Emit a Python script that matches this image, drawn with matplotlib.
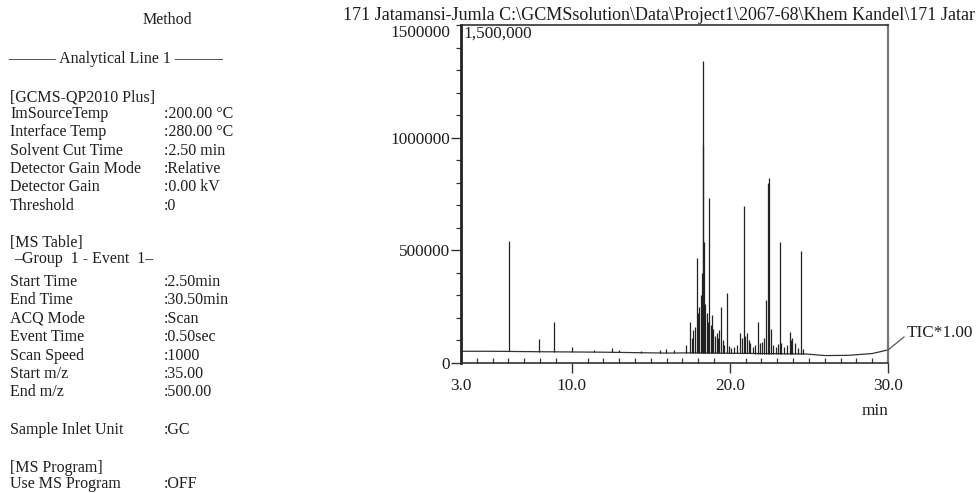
import matplotlib
matplotlib.use("Agg")
import matplotlib.pyplot as plt
import matplotlib.transforms as mtransforms
import numpy as np

# ---------------- data ----------------
title_text = "171 Jatamansi-Jumla C:\\GCMSsolution\\Data\\Project1\\2067-68\\Khem Kandel\\171 Jatar"

method_labels = ["ImSourceTemp", "Interface Temp", "Solvent Cut Time",
                 "Detector Gain Mode", "Detector Gain", "Threshold"]
method_values = [":200.00 \u00b0C", ":280.00 \u00b0C", ":2.50 min",
                 ":Relative", ":0.00 kV", ":0"]
ms_labels = ["Start Time", "End Time", "ACQ Mode", "Event Time",
             "Scan Speed", "Start m/z", "End m/z"]
ms_values = [":2.50min", ":30.50min", ":Scan", ":0.50sec",
             ":1000", ":35.00", ":500.00"]

# baseline of the TIC trace (retention time in min, intensity)
base_t = [3.0, 5.0, 8.0, 12.0, 16.0, 17.3, 24.8, 26.0, 27.5, 29.0, 30.0]
base_v = [52000, 52000, 50000, 48000, 44000, 45000, 40000, 33000, 34000, 42000, 58000]

# peaks (retention time in min, apex intensity)
peak_t = [6.02, 7.94, 8.90, 10.05, 11.4, 12.55, 13.0, 14.4, 15.6, 15.95, 16.5, 17.2,
          17.45, 17.6, 17.7, 17.8, 17.92, 18.0, 18.08, 18.15, 18.25, 18.30, 18.33,
          18.38, 18.45, 18.55, 18.63, 18.71, 18.8, 18.87, 18.95, 19.05, 19.18, 19.25,
          19.33, 19.44, 19.55, 19.65, 19.82, 19.95, 20.1, 20.24, 20.45, 20.66, 20.75,
          20.87, 20.95, 21.08, 21.2, 21.29, 21.45, 21.6, 21.75, 21.9, 22.03, 22.15,
          22.3, 22.39, 22.47, 22.6, 22.75, 22.9, 23.05, 23.15, 23.24, 23.4, 23.6,
          23.78, 23.85, 23.93, 24.1, 24.3, 24.52, 24.65]
peak_h = [540000, 107000, 183000, 72000, 56000, 68000, 58000, 54000, 58000, 62000, 57000, 80000,
          183000, 110000, 147000, 160000, 465000, 220000, 250000, 300000, 398000, 1340000, 969000,
          539000, 260000, 222000, 180000, 733000, 170000, 213000, 150000, 120000, 133000, 110000,
          147000, 250000, 100000, 80000, 310000, 75000, 68000, 72000, 80000, 133000, 110000,
          695000, 120000, 133000, 100000, 89000, 70000, 80000, 183000, 90000, 95000, 110000,
          280000, 800000, 822000, 150000, 80000, 70000, 85000, 539000, 89000, 70000, 80000,
          139000, 100000, 111000, 89000, 65000, 495000, 60000]

y_ticks = [0, 500000, 1000000]
y_ticklabels = ["0", "500000", "1000000"]
x_ticks = [3.0, 10.0, 20.0, 30.0]
x_ticklabels = ["3.0", "10.0", "20.0", "30.0"]

# ---------------- figure ----------------
W, H = 979, 493
fig = plt.figure(figsize=(W / 100, H / 100), dpi=100)
plt.rcParams['font.family'] = ['Liberation Serif', 'DejaVu Serif']
TXT = '#1e1e1e'
FS = 11.5     # left method panel
FC = 12.4     # chart texts
FT = 12.95    # title

def px(x, y):
    return x / W, 1 - y / H

# left method panel
fig.text(*px(167, 20), "Method", ha='center', va='center', fontsize=FS, color=TXT)
fig.text(*px(116, 59), "\u2014\u2014\u2014 Analytical Line 1 \u2014\u2014\u2014", ha='center', va='center',
         fontsize=FS, color=TXT)
fig.text(*px(10, 97), "[GCMS-QP2010 Plus]", ha='left', va='center', fontsize=FS, color=TXT)
y0 = 114
for i, (lab, val) in enumerate(zip(method_labels, method_values)):
    yy = y0 + i * 18.3
    fig.text(*px(10, yy), lab, ha='left', va='center', fontsize=FS, color=TXT)
    fig.text(*px(164, yy), val, ha='left', va='center', fontsize=FS, color=TXT)
fig.text(*px(10, 243), "[MS Table]", ha='left', va='center', fontsize=FS, color=TXT)
fig.text(*px(14, 259), "\u2013Group  1 - Event  1\u2013", ha='left', va='center', fontsize=FS, color=TXT)
y1 = 282
for i, (lab, val) in enumerate(zip(ms_labels, ms_values)):
    yy = y1 + i * 18.4
    fig.text(*px(10, yy), lab, ha='left', va='center', fontsize=FS, color=TXT)
    fig.text(*px(164, yy), val, ha='left', va='center', fontsize=FS, color=TXT)
fig.text(*px(10, 430), "Sample Inlet Unit", ha='left', va='center', fontsize=FS, color=TXT)
fig.text(*px(164, 430), ":GC", ha='left', va='center', fontsize=FS, color=TXT)
fig.text(*px(10, 468), "[MS Program]", ha='left', va='center', fontsize=FS, color=TXT)
fig.text(*px(10, 484), "Use MS Program", ha='left', va='center', fontsize=FS, color=TXT)
fig.text(*px(164, 484), ":OFF", ha='left', va='center', fontsize=FS, color=TXT)

# title
fig.text(*px(343, 15), title_text, ha='left', va='center', fontsize=FT, color=TXT)

# chromatogram axes
ax_l, ax_r, ax_t, ax_b = 461, 888, 25, 363
ax = fig.add_axes([ax_l / W, 1 - ax_b / H, (ax_r - ax_l) / W, (ax_b - ax_t) / H])
ax.set_xlim(3.0, 30.0)
ax.set_ylim(0, 1500000)

ax.plot(base_t, base_v, color='#333333', lw=0.9)
pk_t = np.array(peak_t)
ax.vlines(pk_t, np.interp(pk_t, base_t, base_v), peak_h, color='#222222', lw=0.9)

ax.spines['left'].set_linewidth(2.0)
ax.spines['left'].set_color('#222222')
ax.spines['bottom'].set_linewidth(1.2)
ax.spines['bottom'].set_color('#333333')
ax.spines['top'].set_linewidth(1.2)
ax.spines['top'].set_color('#333333')
ax.spines['right'].set_linewidth(1.6)
ax.spines['right'].set_color('#777777')

ax.set_yticks(y_ticks)
ax.set_yticklabels(y_ticklabels)
ax.set_yticks(np.arange(0, 1500001, 100000), minor=True)
ax.tick_params(axis='y', which='major', direction='out', length=7, width=1.0, pad=1,
               labelsize=FC, labelcolor=TXT, colors='#333333')
ax.tick_params(axis='y', which='minor', direction='out', length=3.5, width=0.9, colors='#333333')

ax.set_xticks(x_ticks)
ax.set_xticklabels(x_ticklabels)
ax.set_xticks(np.arange(3, 31, 1.0), minor=True)
ax.tick_params(axis='x', which='major', direction='out', length=7, width=1.0, pad=4,
               labelsize=FC, labelcolor=TXT, colors='#333333')
ax.tick_params(axis='x', which='minor', direction='in', length=3.5, width=0.9, colors='#333333')
ax.xaxis.get_major_ticks()[0].tick1line.set_visible(False)

trans = mtransforms.blended_transform_factory(ax.transAxes, ax.transData)
ax.text(-0.025, 1500000, "1500000", transform=trans, ha='right', va='top', fontsize=FC, color=TXT)
ax.text(0.006, 0.997, "1,500,000", transform=ax.transAxes, ha='left', va='top', fontsize=FC, color=TXT)

fig.text(*px(875, 411), "min", ha='center', va='center', fontsize=FC, color=TXT)

# TIC label with leader line
fig.add_artist(plt.Line2D([888 / W, 904 / W], [1 - 350 / H, 1 - 337 / H], color='#555555', lw=0.9))
fig.text(*px(907, 333), "TIC*1.00", ha='left', va='center', fontsize=FC, color=TXT)

fig.savefig("out.png", dpi=100)
